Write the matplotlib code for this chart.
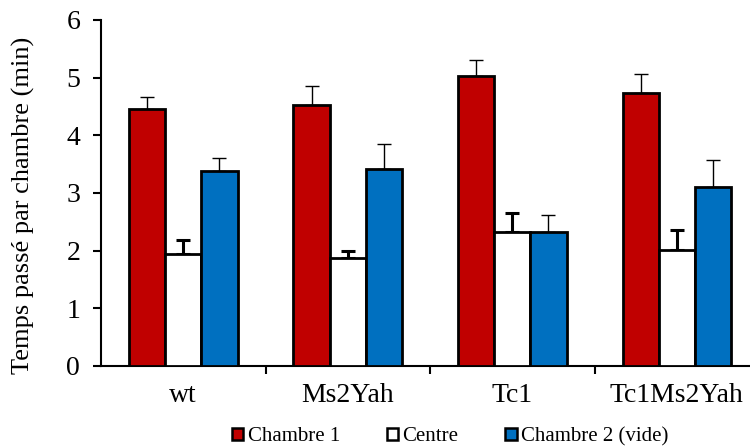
"""
Temps passé par chambre -- grouped bar chart with upper error bars
"""

import matplotlib
matplotlib.use("Agg")
import matplotlib.pyplot as plt
from matplotlib.patches import Patch
import numpy as np

plt.rcParams["font.family"] = ["Liberation Serif", "DejaVu Serif"]

# ── Data ──────────────────────────────────────────────────────────────────────
genotypes = ["wt", "Ms2Yah", "Tc1", "Tc1Ms2Yah"]
series = ["Chambre 1", "Centre", "Chambre 2 (vide)"]
chambre1 = [4.45, 4.52, 5.03, 4.73]
centre = [1.94, 1.87, 2.33, 2.01]
chambre2 = [3.38, 3.42, 2.33, 3.10]
err_chambre1 = [0.21, 0.33, 0.28, 0.33]
err_centre = [0.24, 0.12, 0.32, 0.34]
err_chambre2 = [0.22, 0.43, 0.29, 0.47]

# ── Palette ───────────────────────────────────────────────────────────────────
C_RED = "#C00000"
C_WHITE = "white"
C_BLUE = "#0070C0"

fig = plt.figure(figsize=(7.5, 4.46), dpi=100, facecolor="white")
ax = fig.add_axes([0.1347, 0.1794, 0.8653, 0.7758])

x = np.arange(len(genotypes))
w = 0.22
values = [chambre1, centre, chambre2]
errors = [err_chambre1, err_centre, err_chambre2]
colors = [C_RED, C_WHITE, C_BLUE]
err_lw = [1.0, 2.2, 1.0]

for i, (vals, errs, col) in enumerate(zip(values, errors, colors)):
    xs = x + (i - 1) * w
    ax.bar(xs, vals, width=w, color=col, edgecolor="black", linewidth=2.0,
           zorder=3)
    ax.errorbar(xs, vals, yerr=[np.zeros(len(vals)), errs], fmt="none",
                ecolor="black", elinewidth=err_lw[i], capsize=5,
                capthick=err_lw[i], zorder=2)

ax.set_xlim(-0.5, 3.445)
ax.set_ylim(0, 6)
ax.set_yticks(range(0, 7))
ax.tick_params(axis="y", direction="out", length=6, width=1.5, labelsize=20,
               pad=9)

# category labels at centres, ticks at group boundaries
ax.set_xticks(x)
ax.set_xticklabels(genotypes, fontsize=20)
ax.tick_params(axis="x", which="major", length=0, pad=12)
ax.set_xticks(x[:-1] + 0.5, minor=True)
ax.tick_params(axis="x", which="minor", direction="out", length=6, width=1.5)

for side in ["top", "right"]:
    ax.spines[side].set_visible(False)
ax.spines["left"].set_linewidth(1.5)
ax.spines["bottom"].set_linewidth(1.5)

ax.set_ylabel("Temps passé par chambre (min)", fontsize=19)
ax.yaxis.set_label_coords(-0.101, 0.465)

handles = [Patch(facecolor=c, edgecolor="black", linewidth=1.8, label=s)
           for c, s in zip(colors, series)]
fig.legend(handles=handles, loc="center left", bbox_to_anchor=(0.309, 0.021),
           ncol=3, frameon=False, fontsize=15, handlelength=0.56,
           handleheight=0.56, handletextpad=0.2, columnspacing=2.25,
           borderpad=0, borderaxespad=0)

fig.savefig("out.png", dpi=100, facecolor="white")
